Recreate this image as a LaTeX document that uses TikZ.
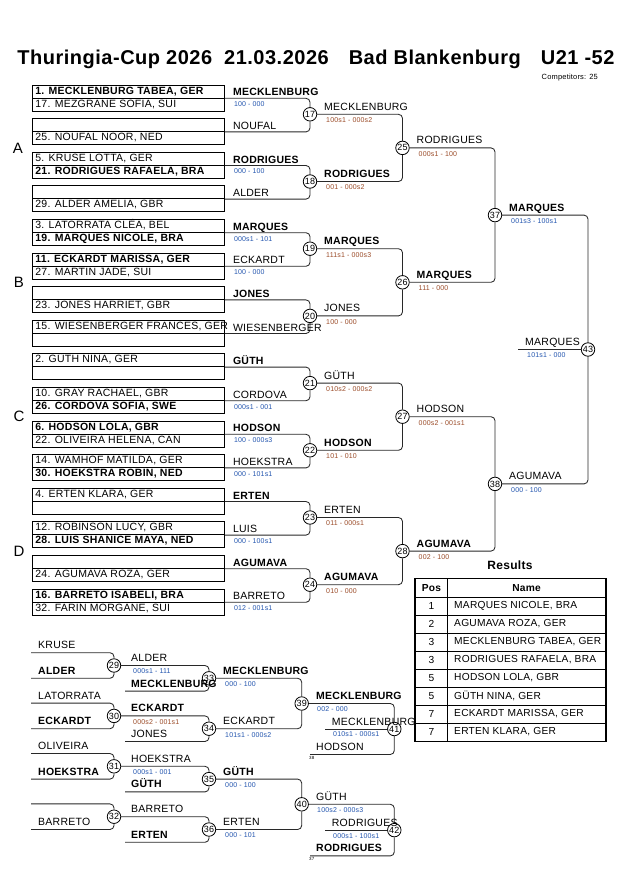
\documentclass[tikz,border=0pt]{standalone}
\usepackage{fontspec}
\setmainfont{Liberation Sans}[LetterSpace=2.5]
\definecolor{scblue}{RGB}{35,85,175}
\definecolor{scbrown}{RGB}{155,75,40}
\definecolor{brline}{RGB}{40,40,40}
\tikzset{
  row/.style={draw=black, line width=0.8pt, anchor=north west, minimum width=192pt,
    minimum height=13pt, inner xsep=3pt, inner ysep=1.25pt, text height=8pt, text depth=2.5pt,
    font=\fontsize{10.5}{12}\selectfont},
  br/.style={draw=brline, line width=0.85pt, rounded corners=4pt},
  circ/.style={circle, draw=black, line width=0.8pt, fill=white, minimum size=13.5pt,
    inner sep=0pt, font=\fontsize{9}{9}\selectfont},
  lab/.style={inner sep=0pt, font=\fontsize{10.5}{12}\selectfont},
  score/.style={inner sep=0pt, font=\fontsize{7}{8}\selectfont},
  tinylab/.style={inner sep=0pt, font=\fontsize{4.5}{5}\selectfont, anchor=north west},
  pool/.style={inner sep=0pt, font=\fontsize{15}{16}\selectfont},
  cell/.style={draw=black, line width=0.8pt, anchor=north west, inner sep=0pt,
    minimum height=18pt, font=\fontsize{10.2}{12}\selectfont},
}
\newcommand\prow[3]{\node[row] (#1) at (32,#2) {\makebox[186pt][l]{#3}};}
\newcommand\tlab[4]{\node[lab,anchor=base west] (#1) at ([shift={(#3)}]#2) {#4};}
\newcommand\tsco[5]{\node[score,text=#4,anchor=west] (#1) at ([shift={(#3)}]#2) {#5};}
\newcommand\resrow[4]{%
  \node[cell, minimum width=32.3pt] (p#1) at (415,#2) {#3};
  \node[cell, minimum width=157.7pt, inner xsep=6.5pt] (n#1) at (447.3,#2) {\makebox[144.7pt][l]{#4}};}
\begin{document}
\begin{tikzpicture}[x=1pt,y=-1pt]
\fill[white] (0,0) rectangle (630,891);
\useasboundingbox (0,0) rectangle (630,891);

% title
\node[inner sep=0pt, anchor=base, font=\fontsize{20}{24}\selectfont\bfseries] (title) at (316,64)
  {Thuringia-Cup 2026\hspace{12pt}21.03.2026\hspace{20pt}Bad Blankenburg\hspace{20pt}U21 -52};
\node[inner sep=0pt, anchor=base east, font=\fontsize{7.5}{8}\selectfont] (comp) at (598,79) {Competitors: 25};

% pool letters
\node[pool] (pA) at (18,148) {A};
\node[pool] (pB) at (19,282.3) {B};
\node[pool] (pC) at (19,416.7) {C};
\node[pool] (pD) at (19,551.1) {D};

% boxes
\prow{b0u}{84.5}{\bfseries 1. MECKLENBURG TABEA, GER}
\prow{b0l}{97.5}{17. MEZGRANE SOFIA, SUI}
\prow{b1u}{118.1}{}
\prow{b1l}{131.1}{25. NOUFAL NOOR, NED}
\prow{b2u}{151.7}{5. KRUSE LOTTA, GER}
\prow{b2l}{164.7}{\bfseries 21. RODRIGUES RAFAELA, BRA}
\prow{b3u}{185.3}{}
\prow{b3l}{198.3}{29. ALDER AMELIA, GBR}
\prow{b4u}{218.9}{3. LATORRATA CLÉA, BEL}
\prow{b4l}{231.9}{\bfseries 19. MARQUES NICOLE, BRA}
\prow{b5u}{252.5}{\bfseries 11. ECKARDT MARISSA, GER}
\prow{b5l}{265.5}{27. MARTIN JADE, SUI}
\prow{b6u}{286.1}{}
\prow{b6l}{299.1}{23. JONES HARRIET, GBR}
\prow{b7u}{319.7}{15. WIESENBERGER FRANCES, GER}
\prow{b7l}{332.7}{}
\prow{b8u}{353.3}{2. GÜTH NINA, GER}
\prow{b8l}{366.3}{}
\prow{b9u}{386.9}{10. GRAY RACHAEL, GBR}
\prow{b9l}{399.9}{\bfseries 26. CORDOVA SOFIA, SWE}
\prow{b10u}{420.5}{\bfseries 6. HODSON LOLA, GBR}
\prow{b10l}{433.5}{22. OLIVEIRA HELENA, CAN}
\prow{b11u}{454.1}{14. WAMHOF MATILDA, GER}
\prow{b11l}{467.1}{\bfseries 30. HOEKSTRA ROBIN, NED}
\prow{b12u}{487.7}{4. ERTEN KLARA, GER}
\prow{b12l}{500.7}{}
\prow{b13u}{521.3}{12. ROBINSON LUCY, GBR}
\prow{b13l}{534.3}{\bfseries 28. LUIS SHANICE MAYA, NED}
\prow{b14u}{554.9}{}
\prow{b14l}{567.9}{24. AGUMAVA ROZA, GER}
\prow{b15u}{588.5}{\bfseries 16. BARRETO ISABELI, BRA}
\prow{b15l}{601.5}{32. FARIN MORGANE, SUI}

% main bracket circles
\node[circ] (m17) at (310,114.3) {17};
\node[circ] (m18) at (310,181.5) {18};
\node[circ] (m19) at (310,248.7) {19};
\node[circ] (m20) at (310,315.9) {20};
\node[circ] (m21) at (310,383.1) {21};
\node[circ] (m22) at (310,450.3) {22};
\node[circ] (m23) at (310,517.5) {23};
\node[circ] (m24) at (310,584.7) {24};
\node[circ] (m25) at (402.5,147.9) {25};
\node[circ] (m26) at (402.5,282.3) {26};
\node[circ] (m27) at (402.5,416.7) {27};
\node[circ] (m28) at (402.5,551.1) {28};
\node[circ] (m37) at (495,215.1) {37};
\node[circ] (m38) at (495,483.9) {38};
\node[circ] (m43) at (588,349.5) {43};
\coordinate (fw) at (518,349.5);

% main bracket connectors
\draw[br] (b0u.south east) -| (m17.north);
\draw[br] (b1u.south east) -| (m17.south);
\draw[br] (b2u.south east) -| (m18.north);
\draw[br] (b3u.south east) -| (m18.south);
\draw[br] (b4u.south east) -| (m19.north);
\draw[br] (b5u.south east) -| (m19.south);
\draw[br] (b6u.south east) -| (m20.north);
\draw[br] (b7u.south east) -| (m20.south);
\draw[br] (b8u.south east) -| (m21.north);
\draw[br] (b9u.south east) -| (m21.south);
\draw[br] (b10u.south east) -| (m22.north);
\draw[br] (b11u.south east) -| (m22.south);
\draw[br] (b12u.south east) -| (m23.north);
\draw[br] (b13u.south east) -| (m23.south);
\draw[br] (b14u.south east) -| (m24.north);
\draw[br] (b15u.south east) -| (m24.south);
\draw[br] (m17.east) -| (m25.north);
\draw[br] (m18.east) -| (m25.south);
\draw[br] (m19.east) -| (m26.north);
\draw[br] (m20.east) -| (m26.south);
\draw[br] (m21.east) -| (m27.north);
\draw[br] (m22.east) -| (m27.south);
\draw[br] (m23.east) -| (m28.north);
\draw[br] (m24.east) -| (m28.south);
\draw[br] (m25.east) -| (m37.north);
\draw[br] (m26.east) -| (m37.south);
\draw[br] (m27.east) -| (m38.north);
\draw[br] (m28.east) -| (m38.south);
\draw[br] (m37.east) -| (m43.north);
\draw[br] (m38.east) -| (m43.south);
\draw[br] (fw) -- (m43.west);

% round 0 labels
\tlab{l0}{b0u.south east}{8pt,2.5pt}{\bfseries MECKLENBURG}
\tsco{s0}{b0u.south east}{9pt,-6pt}{scblue}{100 - 000}
\tlab{l1}{b1u.south east}{8pt,2.5pt}{NOUFAL}
\tlab{l2}{b2u.south east}{8pt,2.5pt}{\bfseries RODRIGUES}
\tsco{s2}{b2u.south east}{9pt,-6pt}{scblue}{000 - 100}
\tlab{l3}{b3u.south east}{8pt,2.5pt}{ALDER}
\tlab{l4}{b4u.south east}{8pt,2.5pt}{\bfseries MARQUES}
\tsco{s4}{b4u.south east}{9pt,-6pt}{scblue}{000s1 - 101}
\tlab{l5}{b5u.south east}{8pt,2.5pt}{ECKARDT}
\tsco{s5}{b5u.south east}{9pt,-6pt}{scblue}{100 - 000}
\tlab{l6}{b6u.south east}{8pt,2.5pt}{\bfseries JONES}
\tlab{l7}{b7u.south east}{8pt,2.5pt}{WIESENBERGER}
\tlab{l8}{b8u.south east}{8pt,2.5pt}{\bfseries GÜTH}
\tlab{l9}{b9u.south east}{8pt,2.5pt}{CORDOVA}
\tsco{s9}{b9u.south east}{9pt,-6pt}{scblue}{000s1 - 001}
\tlab{l10}{b10u.south east}{8pt,2.5pt}{\bfseries HODSON}
\tsco{s10}{b10u.south east}{9pt,-6pt}{scblue}{100 - 000s3}
\tlab{l11}{b11u.south east}{8pt,2.5pt}{HOEKSTRA}
\tsco{s11}{b11u.south east}{9pt,-6pt}{scblue}{000 - 101s1}
\tlab{l12}{b12u.south east}{8pt,2.5pt}{\bfseries ERTEN}
\tlab{l13}{b13u.south east}{8pt,2.5pt}{LUIS}
\tsco{s13}{b13u.south east}{9pt,-6pt}{scblue}{000 - 100s1}
\tlab{l14}{b14u.south east}{8pt,2.5pt}{\bfseries AGUMAVA}
\tlab{l15}{b15u.south east}{8pt,2.5pt}{BARRETO}
\tsco{s15}{b15u.south east}{9pt,-6pt}{scblue}{012 - 001s1}

% later round labels
\tlab{l17}{m17.center}{14pt,4pt}{MECKLENBURG}
\tsco{s17}{m17.center}{16pt,-6pt}{scbrown}{100s1 - 000s2}
\tlab{l18}{m18.center}{14pt,4pt}{\bfseries RODRIGUES}
\tsco{s18}{m18.center}{16pt,-6pt}{scbrown}{001 - 000s2}
\tlab{l19}{m19.center}{14pt,4pt}{\bfseries MARQUES}
\tsco{s19}{m19.center}{16pt,-6pt}{scbrown}{111s1 - 000s3}
\tlab{l20}{m20.center}{14pt,4pt}{JONES}
\tsco{s20}{m20.center}{16pt,-6pt}{scbrown}{100 - 000}
\tlab{l21}{m21.center}{14pt,4pt}{GÜTH}
\tsco{s21}{m21.center}{16pt,-6pt}{scbrown}{010s2 - 000s2}
\tlab{l22}{m22.center}{14pt,4pt}{\bfseries HODSON}
\tsco{s22}{m22.center}{16pt,-6pt}{scbrown}{101 - 010}
\tlab{l23}{m23.center}{14pt,4pt}{ERTEN}
\tsco{s23}{m23.center}{16pt,-6pt}{scbrown}{011 - 000s1}
\tlab{l24}{m24.center}{14pt,4pt}{\bfseries AGUMAVA}
\tsco{s24}{m24.center}{16pt,-6pt}{scbrown}{010 - 000}
\tlab{l25}{m25.center}{14pt,4pt}{RODRIGUES}
\tsco{s25}{m25.center}{16pt,-6pt}{scbrown}{000s1 - 100}
\tlab{l26}{m26.center}{14pt,4pt}{\bfseries MARQUES}
\tsco{s26}{m26.center}{16pt,-6pt}{scbrown}{111 - 000}
\tlab{l27}{m27.center}{14pt,4pt}{HODSON}
\tsco{s27}{m27.center}{16pt,-6pt}{scbrown}{000s2 - 001s1}
\tlab{l28}{m28.center}{14pt,4pt}{\bfseries AGUMAVA}
\tsco{s28}{m28.center}{16pt,-6pt}{scbrown}{002 - 100}
\tlab{l37}{m37.center}{14pt,4pt}{\bfseries MARQUES}
\tsco{s37}{m37.center}{16pt,-6pt}{scblue}{001s3 - 100s1}
\tlab{l38}{m38.center}{14pt,4pt}{AGUMAVA}
\tsco{s38}{m38.center}{16pt,-6pt}{scblue}{000 - 100}
\tlab{l43}{fw}{7pt,4pt}{MARQUES}
\tsco{s43}{fw}{9pt,-6pt}{scblue}{101s1 - 000}

% results table
\node[inner sep=0pt, font=\fontsize{12}{14}\selectfont\bfseries] (restitle) at (510,565) {Results};
\node[cell, minimum width=32.3pt, minimum height=18.3pt] (p0) at (415,578.3) {\bfseries Pos};
\node[cell, minimum width=157.7pt, minimum height=18.3pt] (n0) at (447.3,578.3) {\bfseries Name};
\resrow{1}{596.6}{1}{MARQUES NICOLE, BRA}
\resrow{2}{614.6}{2}{AGUMAVA ROZA, GER}
\resrow{3}{632.6}{3}{MECKLENBURG TABEA, GER}
\resrow{4}{650.6}{3}{RODRIGUES RAFAELA, BRA}
\resrow{5}{668.6}{5}{HODSON LOLA, GBR}
\resrow{6}{686.6}{5}{GÜTH NINA, GER}
\resrow{7}{704.6}{7}{ECKARDT MARISSA, GER}
\resrow{8}{722.6}{7}{ERTEN KLARA, GER}
\draw[line width=1.6pt] (p0.north west) rectangle (n8.south east);

% repechage
\node[circ] (c29) at (114,665.5) {29};
\node[circ] (c30) at (114,715.9) {30};
\node[circ] (c31) at (114,766.3) {31};
\node[circ] (c32) at (114,816.7) {32};
\node[circ] (c33) at (209,678.3) {33};
\node[circ] (c34) at (209,728.7) {34};
\node[circ] (c35) at (209,779.1) {35};
\node[circ] (c36) at (209,829.5) {36};
\node[circ] (c39) at (301.7,703.5) {39};
\node[circ] (c40) at (301.7,804.3) {40};
\node[circ] (c41) at (394.3,729) {41};
\node[circ] (c42) at (394.3,830.1) {42};
\coordinate (k29a) at (31,652.7); \coordinate (k29b) at (31,678.3);
\coordinate (k30a) at (31,703.1); \coordinate (k30b) at (31,728.7);
\coordinate (k31a) at (31,753.5); \coordinate (k31b) at (31,779.1);
\coordinate (k32a) at (31,803.9); \coordinate (k32b) at (31,829.5);
\coordinate (k33) at (125,691.1); \coordinate (k34) at (125,741.5);
\coordinate (k35) at (125,791.9); \coordinate (k36) at (125,842.3);
\coordinate (k41) at (310,754.5); \coordinate (k42) at (310,855.9);
\coordinate (o41) at (325,729); \coordinate (o42) at (325,830.1);

\draw[br] (k29a) -| (c29.north); \draw[br] (k29b) -| (c29.south);
\draw[br] (k30a) -| (c30.north); \draw[br] (k30b) -| (c30.south);
\draw[br] (k31a) -| (c31.north); \draw[br] (k31b) -| (c31.south);
\draw[br] (k32a) -| (c32.north); \draw[br] (k32b) -| (c32.south);
\draw[br] (c29.east) -| (c33.north); \draw[br] (k33) -| (c33.south);
\draw[br] (c30.east) -| (c34.north); \draw[br] (k34) -| (c34.south);
\draw[br] (c31.east) -| (c35.north); \draw[br] (k35) -| (c35.south);
\draw[br] (c32.east) -| (c36.north); \draw[br] (k36) -| (c36.south);
\draw[br] (c33.east) -| (c39.north); \draw[br] (c34.east) -| (c39.south);
\draw[br] (c35.east) -| (c40.north); \draw[br] (c36.east) -| (c40.south);
\draw[br] (c39.east) -| (c41.north); \draw[br] (k41) -| (c41.south);
\draw[br] (c40.east) -| (c42.north); \draw[br] (k42) -| (c42.south);
\draw[br] (o41) -- (c41.west);
\draw[br] (o42) -- (c42.west);

\tlab{t29a}{k29a}{7pt,4pt}{KRUSE}
\tlab{t29b}{k29b}{7pt,4pt}{\bfseries ALDER}
\tlab{t30a}{k30a}{7pt,4pt}{LATORRATA}
\tlab{t30b}{k30b}{7pt,4pt}{\bfseries ECKARDT}
\tlab{t31a}{k31a}{7pt,4pt}{OLIVEIRA}
\tlab{t31b}{k31b}{7pt,4pt}{\bfseries HOEKSTRA}
\tlab{t32b}{k32b}{7pt,4pt}{BARRETO}
\tlab{o29l}{c29.center}{17pt,4pt}{ALDER}
\tsco{o29s}{c29.center}{19pt,-6pt}{scblue}{000s1 - 111}
\tlab{t33b}{k33}{6pt,4pt}{\bfseries MECKLENBURG}
\tlab{o30l}{c30.center}{17pt,4pt}{\bfseries ECKARDT}
\tsco{o30s}{c30.center}{19pt,-6pt}{scbrown}{000s2 - 001s1}
\tlab{t34b}{k34}{6pt,4pt}{JONES}
\tlab{o31l}{c31.center}{17pt,4pt}{HOEKSTRA}
\tsco{o31s}{c31.center}{19pt,-6pt}{scblue}{000s1 - 001}
\tlab{t35b}{k35}{6pt,4pt}{\bfseries GÜTH}
\tlab{o32l}{c32.center}{17pt,4pt}{BARRETO}
\tlab{t36b}{k36}{6pt,4pt}{\bfseries ERTEN}
\tlab{o33l}{c33.center}{14pt,4pt}{\bfseries MECKLENBURG}
\tsco{o33s}{c33.center}{16pt,-6pt}{scblue}{000 - 100}
\tlab{o34l}{c34.center}{14pt,4pt}{ECKARDT}
\tsco{o34s}{c34.center}{16pt,-6pt}{scblue}{101s1 - 000s2}
\tlab{o35l}{c35.center}{14pt,4pt}{\bfseries GÜTH}
\tsco{o35s}{c35.center}{16pt,-6pt}{scblue}{000 - 100}
\tlab{o36l}{c36.center}{14pt,4pt}{ERTEN}
\tsco{o36s}{c36.center}{16pt,-6pt}{scblue}{000 - 101}
\tlab{o39l}{c39.center}{14.3pt,4pt}{\bfseries MECKLENBURG}
\tsco{o39s}{c39.center}{15.3pt,-6pt}{scblue}{002 - 000}
\tlab{t41b}{k41}{6pt,4pt}{HODSON}
\node[tinylab] (n38) at ([shift={(-1pt,-1.5pt)}]k41) {38};
\tlab{o41l}{o41}{6.7pt,4pt}{MECKLENBURG}
\tsco{o41s}{o41}{8pt,-5.5pt}{scblue}{010s1 - 000s1}
\tlab{o40l}{c40.center}{14.3pt,4pt}{GÜTH}
\tsco{o40s}{c40.center}{15.3pt,-6pt}{scblue}{100s2 - 000s3}
\tlab{t42b}{k42}{6pt,4pt}{\bfseries RODRIGUES}
\node[tinylab] (n37) at ([shift={(-1pt,-1.5pt)}]k42) {37};
\tlab{o42l}{o42}{6.7pt,4pt}{RODRIGUES}
\tsco{o42s}{o42}{8pt,-5.5pt}{scblue}{000s1 - 100s1}
\end{tikzpicture}
\end{document}
